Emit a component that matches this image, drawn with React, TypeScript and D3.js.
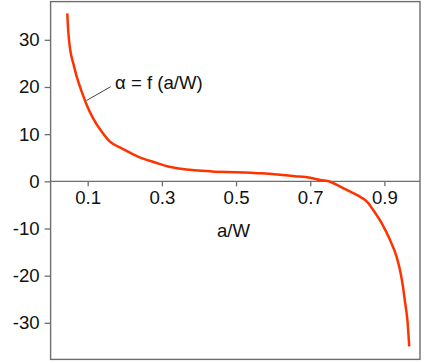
import React, { useRef, useEffect } from "react";
import * as d3 from "d3";

// a/W versus alpha
const aW = [
  0.045, 0.0477, 0.0523, 0.0612, 0.0704, 0.0839, 0.0974, 0.115, 0.138, 0.16,
  0.192, 0.237, 0.282, 0.32, 0.435, 0.5, 0.569, 0.659, 0.7, 0.727, 0.754, 0.781,
  0.808, 0.835, 0.853, 0.87, 0.893, 0.915, 0.933, 0.942, 0.95, 0.956, 0.962,
  0.967,
];
const alpha = [
  35.6, 31.7, 28.2, 25.0, 22.2, 19.0, 16.2, 13.3, 10.5, 8.4, 7.0, 5.2, 4.0, 3.1,
  2.1, 1.95, 1.7, 1.1, 0.75, 0.28, -0.08, -1.14, -2.2, -3.3, -4.3, -6.1, -8.9,
  -12.4, -16.0, -18.8, -22.3, -25.8, -29.4, -35.0,
];
const xTicks = [0.1, 0.3, 0.5, 0.7, 0.9];
const yTicks = [30, 20, 10, 0, -10, -20, -30];

const App: React.FC = () => {
  const svgRef = useRef<SVGSVGElement | null>(null);

  useEffect(() => {
    const svg = d3.select(svgRef.current);
    svg.selectAll("*").remove();

    const W = 424;
    const H = 363;
    const left = 50.6;
    const right = 420;
    const top = 1.6;
    const bottom = 359.4;
    const font = "Liberation Sans, Arial, sans-serif";
    const axisColor = "#6e6e6e";
    const fs = 18.6;

    svg.attr("width", W).attr("height", H);

    const x = d3.scaleLinear().domain([0, 0.996]).range([left, right]);
    const y = d3.scaleLinear().domain([-37.75, 38.1]).range([bottom, top]);

    // frame
    svg
      .append("rect")
      .attr("x", left)
      .attr("y", top)
      .attr("width", right - left)
      .attr("height", bottom - top)
      .style("fill", "#ffffff")
      .style("stroke", axisColor)
      .style("stroke-width", "1.4px");

    // y axis
    const yAxis = svg
      .append("g")
      .attr("transform", `translate(${left},0)`)
      .call(
        d3
          .axisLeft(y)
          .tickValues(yTicks)
          .tickSize(6)
          .tickPadding(5)
          .tickFormat((d) => String(d))
      );
    yAxis.select(".domain").remove();
    yAxis.selectAll(".tick line").attr("stroke", axisColor).attr("stroke-width", 1.3);
    yAxis
      .selectAll(".tick text")
      .attr("font-family", font)
      .attr("font-size", fs)
      .attr("fill", "#111");

    // x axis through zero
    const xAxis = svg
      .append("g")
      .attr("transform", `translate(0,${y(0)})`)
      .call(
        d3
          .axisBottom(x)
          .tickValues(xTicks)
          .tickSize(5)
          .tickPadding(4)
          .tickFormat(d3.format(".1f"))
      );
    xAxis
      .select(".domain")
      .attr("d", `M${left},0H${right}`)
      .attr("stroke", axisColor)
      .attr("stroke-width", 1.3);
    xAxis.selectAll(".tick line").attr("stroke", axisColor).attr("stroke-width", 1.3);
    xAxis
      .selectAll(".tick text")
      .attr("font-family", font)
      .attr("font-size", fs)
      .attr("fill", "#111");

    svg
      .append("text")
      .attr("x", 233.5)
      .attr("y", 237)
      .attr("text-anchor", "middle")
      .attr("font-family", font)
      .attr("font-size", fs)
      .attr("fill", "#111")
      .text("a/W");

    // curve
    const pts = aW.map((d, i) => [d, alpha[i]] as [number, number]);
    const line = d3
      .line<[number, number]>()
      .x((d) => x(d[0]))
      .y((d) => y(d[1]))
      .curve(d3.curveMonotoneX);

    svg
      .append("path")
      .datum(pts)
      .attr("d", line)
      .attr("fill", "none")
      .attr("stroke", "#ff3300")
      .attr("stroke-width", 2.5);

    // annotation
    svg
      .append("line")
      .attr("x1", 110.7)
      .attr("y1", 86.7)
      .attr("x2", 86.5)
      .attr("y2", 100.5)
      .attr("stroke", "#444")
      .attr("stroke-width", 1);

    svg
      .append("text")
      .attr("x", 115)
      .attr("y", 88.5)
      .attr("font-family", font)
      .attr("font-size", fs)
      .attr("fill", "#111")
      .text("α = f (a/W)");
  }, []);

  return (
    <svg
      ref={svgRef}
      style={{ position: "absolute", left: 0, top: 0, display: "block" }}
    />
  );
};

export default App;
